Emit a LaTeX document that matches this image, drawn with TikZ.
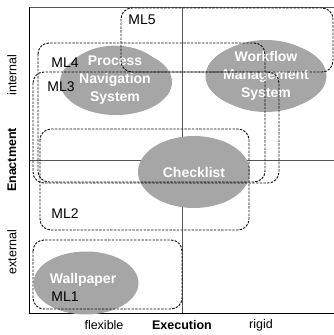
\documentclass[tikz,border=0pt]{standalone}
\usepackage{fontspec}
\setmainfont{Liberation Sans}
\usepackage{tikz}
\usetikzlibrary{shapes.geometric,positioning}
\definecolor{blobGray}{RGB}{166,166,166}
\definecolor{axisGray}{RGB}{85,85,85}
\definecolor{lineDark}{RGB}{10,10,10}

\begin{document}
\begin{tikzpicture}[x=1pt,y=-1pt,
  blob/.style={ellipse, fill=blobGray, draw=none, inner sep=0pt, text=white,
    font=\bfseries\fontsize{14}{18}\selectfont, align=center},
  mlbox/.style={draw=lineDark, line width=0.9pt, dash pattern=on 2.4pt off 1.3pt, rounded corners=11pt},
  mllabel/.style={font=\fontsize{14}{16}\selectfont, inner sep=0pt},
  axislabel/.style={font=\fontsize{12.5}{14}\selectfont, inner sep=0pt}]
\useasboundingbox (0,0) rectangle (334,335);

% axes and quadrant lines
\draw[axisGray, line width=0.8pt] (29,7) -- (334,7);
\draw[axisGray, line width=0.8pt] (182,7) -- (182,313);
\draw[axisGray, line width=0.8pt] (29,160) -- (334,160);
\draw[black, line width=1pt] (29,7) -- (29,313) -- (334,313);

% systems
\node[blob, minimum width=112pt, minimum height=66pt] (pns) at (116,82) {};
\node[blob] (pnstxt) at (115,80) {Process\\Navigation\\System};
\node[blob, minimum width=113pt, minimum height=72pt] (wms) at (266,76) {};
\node[blob] (wmstxt) at (266,76) {Workflow\\Management\\System};
\node[blob, minimum width=112pt, minimum height=72pt] (chk) at (194,172) {};
\node[blob] (chktxt) at (194,172) {Checklist};
\node[blob, minimum width=105pt, minimum height=63pt] (wall) at (86,283) {};
\node[blob] (walltxt) at (83,280) {Wallpaper};

% maturity levels
\draw[mlbox] (121,8) rectangle (333,72);
\draw[mlbox] (38,43) rectangle (265,182);
\draw[mlbox] (33,72) rectangle (279,183);
\draw[mlbox] (40,129) rectangle (249,230);
\draw[mlbox] (33,240) rectangle (182,309);

\node[mllabel] (ml5) at (142,20) {ML5};
\node[mllabel] (ml4) at (65,63) {ML4};
\node[mllabel] (ml3) at (61,87) {ML3};
\node[mllabel] (ml2) at (65,214) {ML2};
\node[mllabel] (ml1) at (65,297) {ML1};

% axis labels
\node[axislabel, rotate=90] (internal) at (12,75) {internal};
\node[axislabel, rotate=90, font=\bfseries\fontsize{12.5}{14}\selectfont] (enact) at (12,160) {Enactment};
\node[axislabel, rotate=90] (external) at (12,252) {external};
\node[axislabel] (flex) at (104,325) {flexible};
\node[axislabel, font=\bfseries\fontsize{12.5}{14}\selectfont] (exec) at (182,325) {Execution};
\node[axislabel] (rigid) at (261,325) {rigid};
\end{tikzpicture}
\end{document}
